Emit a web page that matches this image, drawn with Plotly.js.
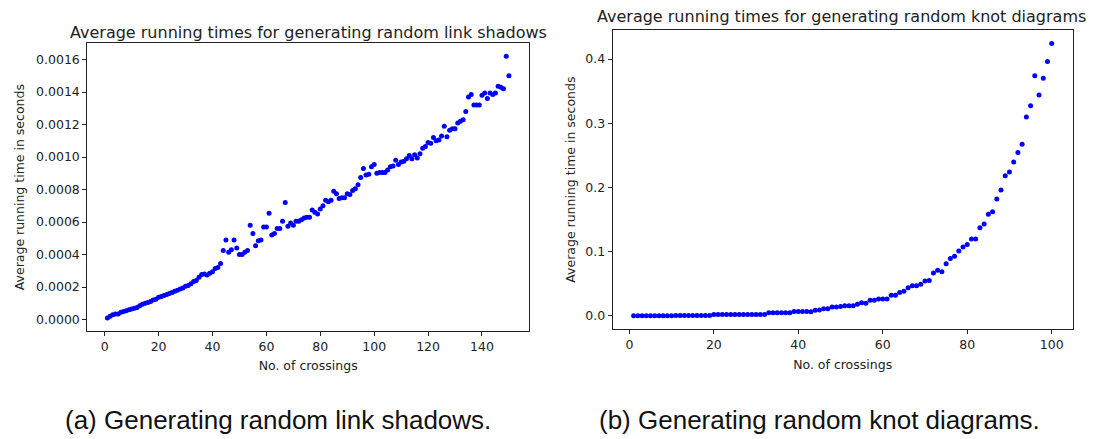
<!DOCTYPE html>
<html>
<head>
<meta charset="utf-8">
<script src="https://cdn.plot.ly/plotly-3.0.1.min.js"></script>
<style>
  html, body { margin: 0; padding: 0; background: #ffffff; }
  #chart { width: 1099px; height: 439px; }
</style>
</head>
<body>
<div id="chart"></div>
<script>
// ---- Data: (a) link shadows, crossings 1..150, seconds ----
const linkCrossings = Array.from({length: 150}, (_, i) => i + 1);
const linkTimesE4 = [
  0.10, 0.20, 0.30, 0.35, 0.35, 0.45, 0.50, 0.55, 0.60, 0.65,
  0.70, 0.75, 0.85, 0.95, 1.00, 1.05, 1.12, 1.20, 1.25, 1.38,
  1.42, 1.48, 1.55, 1.60, 1.67, 1.75, 1.80, 1.88, 1.95, 2.05,
  2.10, 2.20, 2.35, 2.40, 2.60, 2.78, 2.80, 2.75, 2.85, 2.95,
  3.15, 3.20, 3.45, 4.25, 4.90, 4.15, 4.30, 4.90, 4.40, 4.00,
  4.00, 4.15, 4.25, 5.80, 5.30, 4.55, 4.85, 4.90, 5.70, 5.70,
  6.55, 5.20, 5.30, 5.60, 5.60, 6.05, 7.20, 5.75, 5.95, 5.80,
  6.05, 6.05, 6.15, 6.25, 6.30, 6.30, 6.75, 6.60, 6.50, 6.80,
  7.00, 7.35, 7.25, 7.35, 7.90, 7.75, 7.45, 7.50, 7.50, 7.75,
  7.70, 7.95, 8.05, 8.30, 8.75, 9.30, 8.90, 8.95, 9.40, 9.55,
  9.00, 9.05, 9.05, 9.05, 9.20, 9.40, 9.45, 9.80, 9.55, 9.70,
  9.75, 9.90, 10.10, 9.90, 10.15, 9.95, 10.20, 10.55, 10.65, 10.90,
  10.85, 11.20, 11.00, 11.05, 11.30, 11.90, 11.25, 11.65, 11.75, 11.75,
  12.10, 12.20, 12.30, 12.80, 13.70, 13.85, 13.20, 13.20, 13.20, 13.80,
  13.95, 13.60, 13.95, 13.85, 13.95, 14.35, 14.30, 14.20, 16.20, 15.00
];
const linkTimes = linkTimesE4.map(v => v * 1e-4);

// ---- Data: (b) knot diagrams, crossings 1..100, seconds ----
const knotCrossings = Array.from({length: 100}, (_, i) => i + 1);
const knotTimes = [
  0.0001, 0.0001, 0.0001, 0.0001, 0.0001, 0.0001, 0.0001, 0.0001, 0.0001, 0.0001,
  0.0002, 0.0002, 0.0002, 0.0002, 0.0002, 0.0003, 0.0003, 0.0003, 0.0003, 0.0020,
  0.0020, 0.0020, 0.0020, 0.0020, 0.0020, 0.0020, 0.0020, 0.0020, 0.0020, 0.0020,
  0.0020, 0.0020, 0.0045, 0.0045, 0.0045, 0.0045, 0.0045, 0.0045, 0.0065, 0.0065,
  0.0065, 0.0065, 0.0060, 0.0085, 0.0090, 0.0110, 0.0110, 0.0135, 0.0135, 0.0145,
  0.0155, 0.0155, 0.0155, 0.0180, 0.0200, 0.0195, 0.0240, 0.0240, 0.0260, 0.0260,
  0.0260, 0.0320, 0.0320, 0.0360, 0.0380, 0.0436, 0.0468, 0.0468, 0.0490, 0.0540,
  0.0550, 0.0665, 0.0707, 0.0686, 0.0810, 0.0890, 0.0925, 0.1008, 0.1070, 0.1110,
  0.1195, 0.1195, 0.1370, 0.1430, 0.1580, 0.1620, 0.1820, 0.1960, 0.2180, 0.2240,
  0.2395, 0.2545, 0.2670, 0.3096, 0.3270, 0.3740, 0.3440, 0.3700, 0.3960, 0.4240
];

// ---- Tick labels ----
const linkXTicks = [0, 20, 40, 60, 80, 100, 120, 140];
const linkYTicks = [0, 0.0002, 0.0004, 0.0006, 0.0008, 0.0010, 0.0012, 0.0014, 0.0016];
const knotXTicks = [0, 20, 40, 60, 80, 100];
const knotYTicks = [0, 0.1, 0.2, 0.3, 0.4];

const mplFont = {family: 'DejaVu Sans', size: 12.5, color: '#222222'};
const titleFont = {family: 'DejaVu Sans', size: 16, color: '#222222'};
const captionFont = {family: 'Liberation Sans', size: 26, color: '#111111'};
const marker = {color: '#0000ff', size: 5, line: {width: 0}};

const traces = [
  {x: linkCrossings, y: linkTimes, type: 'scatter', mode: 'markers', marker: marker,
   xaxis: 'x', yaxis: 'y', name: 'link shadows', showlegend: false},
  {x: knotCrossings, y: knotTimes, type: 'scatter', mode: 'markers', marker: marker,
   xaxis: 'x2', yaxis: 'y2', name: 'knot diagrams', showlegend: false}
];

function axisBase() {
  return {
    showgrid: false, zeroline: false,
    showline: true, linecolor: '#222222', linewidth: 1, mirror: true,
    ticks: 'outside', ticklen: 4, tickwidth: 1, tickcolor: '#222222',
    tickfont: mplFont, tickmode: 'array'
  };
}

const layout = {
  width: 1099, height: 439,
  margin: {l: 0, r: 0, t: 0, b: 0},
  paper_bgcolor: '#ffffff', plot_bgcolor: '#ffffff',
  showlegend: false,
  xaxis: Object.assign(axisBase(), {
    domain: [87.3 / 1099, 529 / 1099], range: [-6.45, 157.45],
    tickvals: linkXTicks, ticktext: linkXTicks.map(String),
    title: {text: 'No. of crossings', font: mplFont, standoff: 8},
    anchor: 'y'
  }),
  yaxis: Object.assign(axisBase(), {
    domain: [1 - 331 / 439, 1 - 43.3 / 439], range: [-0.00007, 0.0017],
    tickvals: linkYTicks, ticktext: linkYTicks.map(v => v.toFixed(4)),
    title: {text: 'Average running time in seconds', font: mplFont, standoff: 8},
    anchor: 'x'
  }),
  xaxis2: Object.assign(axisBase(), {
    domain: [612.7 / 1099, 1072.6 / 1099], range: [-3.95, 104.95],
    tickvals: knotXTicks, ticktext: knotXTicks.map(String),
    title: {text: 'No. of crossings', font: mplFont, standoff: 8},
    anchor: 'y2'
  }),
  yaxis2: Object.assign(axisBase(), {
    domain: [1 - 329.3 / 439, 1 - 30 / 439], range: [-0.0212, 0.4452],
    tickvals: knotYTicks, ticktext: knotYTicks.map(v => v.toFixed(1)),
    title: {text: 'Average running time in seconds', font: mplFont, standoff: 6},
    anchor: 'x2'
  }),
  annotations: [
    {text: 'Average running times for generating random link shadows', xref: 'paper', yref: 'paper',
     x: 308 / 1099, y: 1 - 32 / 439, xanchor: 'center', yanchor: 'middle', showarrow: false,
     font: titleFont},
    {text: 'Average running times for generating random knot diagrams', xref: 'paper', yref: 'paper',
     x: 841 / 1099, y: 1 - 17 / 439, xanchor: 'center', yanchor: 'middle', showarrow: false,
     font: titleFont},
    {text: '(a) Generating random link shadows.', xref: 'paper', yref: 'paper',
     x: 277.5 / 1099, y: 1 - 420 / 439, xanchor: 'center', yanchor: 'middle', showarrow: false,
     font: captionFont},
    {text: '(b) Generating random knot diagrams.', xref: 'paper', yref: 'paper',
     x: 819.5 / 1099, y: 1 - 420 / 439, xanchor: 'center', yanchor: 'middle', showarrow: false,
     font: captionFont}
  ]
};

Plotly.newPlot('chart', traces, layout, {staticPlot: true, displayModeBar: false});
</script>
</body>
</html>
